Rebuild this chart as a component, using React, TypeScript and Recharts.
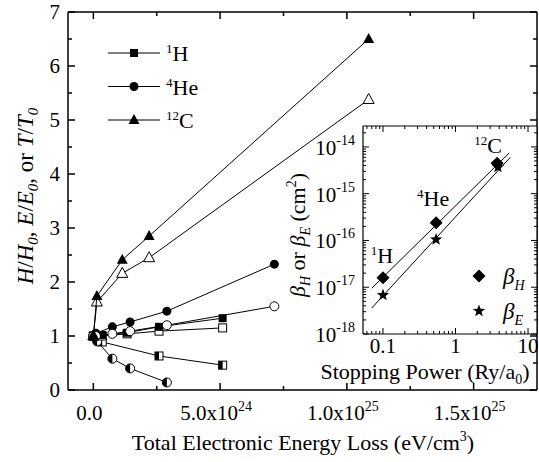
import React from 'react';
import { ScatterChart, Scatter, XAxis, YAxis, Legend, CartesianGrid } from 'recharts';

const FONT = '"Liberation Serif", "Times New Roman", Times, serif';
const K = '#000';

// ---------------- main panel data (x: eV/cm^3, y: ratio) ----------------
const h1Filled = [
  { x: 0, y: 1 }, { x: 3.5e23, y: 1.02 }, { x: 1.33e24, y: 1.06 }, { x: 2.59e24, y: 1.17 }, { x: 5.1e24, y: 1.33 },
];
const h1Open = [
  { x: 0, y: 1 }, { x: 3.5e23, y: 1.0 }, { x: 1.33e24, y: 1.04 }, { x: 2.59e24, y: 1.09 }, { x: 5.1e24, y: 1.15 },
];
const h1Half = [
  { x: 0, y: 1 }, { x: 3.5e23, y: 0.89 }, { x: 2.59e24, y: 0.63 }, { x: 5.1e24, y: 0.46 },
];
const he4Filled = [
  { x: 0, y: 1 }, { x: 1e23, y: 1.05 }, { x: 7.5e23, y: 1.17 }, { x: 1.45e24, y: 1.26 }, { x: 2.9e24, y: 1.46 }, { x: 7.14e24, y: 2.33 },
];
const he4Open = [
  { x: 0, y: 1 }, { x: 1e23, y: 1.0 }, { x: 7.5e23, y: 1.04 }, { x: 1.45e24, y: 1.09 }, { x: 2.9e24, y: 1.2 }, { x: 7.14e24, y: 1.55 },
];
const he4Half = [
  { x: 0, y: 1 }, { x: 1.5e23, y: 0.9 }, { x: 7.5e23, y: 0.58 }, { x: 1.45e24, y: 0.4 }, { x: 2.9e24, y: 0.14 },
];
const c12Filled = [
  { x: 0, y: 1 }, { x: 1.4e23, y: 1.74 }, { x: 1.14e24, y: 2.41 }, { x: 2.2e24, y: 2.85 }, { x: 1.086e25, y: 6.5 },
];
const c12Open = [
  { x: 0, y: 1 }, { x: 1.4e23, y: 1.63 }, { x: 1.14e24, y: 2.16 }, { x: 2.2e24, y: 2.45 }, { x: 1.086e25, y: 5.38 },
];

const yTicksMain = [0, 0.5, 1, 1.5, 2, 2.5, 3, 3.5, 4, 4.5, 5, 5.5, 6, 6.5, 7];
const yMajorMain = [0, 1, 2, 3, 4, 5, 6, 7];
const xTicksMain = [0, 2.5e24, 5e24, 7.5e24, 1e25, 1.25e25, 1.5e25];
const xMajorMain = [0, 5e24, 1e25, 1.5e25];
const xTickBase = ['0.0', '5.0x10', '1.0x10', '1.5x10'];
const xTickExp = ['', '24', '25', '25'];

const mainLegendItems = [
  { iso: '1', el: 'H', kind: 'sqF' },
  { iso: '4', el: 'He', kind: 'ciF' },
  { iso: '12', el: 'C', kind: 'trF' },
];

// ---------------- inset data (x: Ry/a0, y: cm^2) ----------------
const betaH = [{ x: 0.1, y: 1.6e-17 }, { x: 0.54, y: 2.4e-16 }, { x: 3.75, y: 4.5e-15 }];
const betaE = [{ x: 0.1, y: 6.8e-18 }, { x: 0.54, y: 1.05e-16 }, { x: 3.85, y: 3.7e-15 }];
const fitH = [{ x: 0.07, y: 9.5e-18 }, { x: 5.5, y: 7.4e-15 }];
const fitE = [{ x: 0.07, y: 3.6e-18 }, { x: 5.7, y: 6.0e-15 }];
const isoLabels = ['1', '4', '12'];
const elLabels = ['H', 'He', 'C'];
const annotOffsets = [{ dx: -1, dy: -15 }, { dx: -3, dy: -17 }, { dx: -9, dy: -10 }];

const insetXMajor = [0.1, 1, 10];
const insetXLabels = ['0.1', '1', '10'];
const insetXMinor = [0.06, 0.07, 0.08, 0.09, 0.2, 0.3, 0.4, 0.5, 0.6, 0.7, 0.8, 0.9, 2, 3, 4, 5, 6, 7, 8, 9];
const insetYMajor = [1e-18, 1e-17, 1e-16, 1e-15, 1e-14];
const insetYExp = ['-18', '-17', '-16', '-15', '-14'];
const insetYMinor = [
  2e-18, 3e-18, 4e-18, 5e-18, 6e-18, 7e-18, 8e-18, 9e-18,
  2e-17, 3e-17, 4e-17, 5e-17, 6e-17, 7e-17, 8e-17, 9e-17,
  2e-16, 3e-16, 4e-16, 5e-16, 6e-16, 7e-16, 8e-16, 9e-16,
  2e-15, 3e-15, 4e-15, 5e-15, 6e-15, 7e-15, 8e-15, 9e-15,
  2e-14,
];
const insetXTicks = [...insetXMinor, ...insetXMajor].sort((a, b) => a - b);
const insetYTicks = [...insetYMinor, ...insetYMajor].sort((a, b) => a - b);

const insetLegendItems = [
  { sym: 'diamond', sub: 'H' },
  { sym: 'star', sub: 'E' },
];

// ---------------- markers ----------------
function starPoints(cx: number, cy: number, ro: number, ri: number) {
  const pts: string[] = [];
  for (let i = 0; i < 10; i++) {
    const r = i % 2 === 0 ? ro : ri;
    const a = -Math.PI / 2 + (i * Math.PI) / 5;
    pts.push(`${cx + r * Math.cos(a)},${cy + r * Math.sin(a)}`);
  }
  return pts.join(' ');
}

function markerEl(kind: string, cx: number, cy: number) {
  const s = 4;
  const r = 4.5;
  switch (kind) {
    case 'sqF':
      return <rect x={cx - s} y={cy - s} width={2 * s} height={2 * s} fill={K} />;
    case 'sqO':
      return <rect x={cx - s} y={cy - s} width={2 * s} height={2 * s} fill="#fff" stroke={K} strokeWidth={1} />;
    case 'sqH':
      return (
        <g>
          <rect x={cx - s} y={cy - s} width={2 * s} height={2 * s} fill="#fff" stroke={K} strokeWidth={1} />
          <rect x={cx - s} y={cy - s} width={s} height={2 * s} fill={K} />
        </g>
      );
    case 'ciF':
      return <circle cx={cx} cy={cy} r={r} fill={K} />;
    case 'ciO':
      return <circle cx={cx} cy={cy} r={r} fill="#fff" stroke={K} strokeWidth={1} />;
    case 'ciH':
      return (
        <g>
          <circle cx={cx} cy={cy} r={r} fill="#fff" stroke={K} strokeWidth={1} />
          <path d={`M${cx},${cy - r} A${r},${r} 0 0 0 ${cx},${cy + r} Z`} fill={K} />
        </g>
      );
    case 'trF':
      return <polygon points={`${cx},${cy - 6} ${cx - 5.5},${cy + 4} ${cx + 5.5},${cy + 4}`} fill={K} />;
    case 'trO':
      return (
        <polygon points={`${cx},${cy - 6} ${cx - 5.5},${cy + 4} ${cx + 5.5},${cy + 4}`} fill="#fff" stroke={K} strokeWidth={1} />
      );
    case 'diamond':
      return <polygon points={`${cx},${cy - 6.5} ${cx + 6.5},${cy} ${cx},${cy + 6.5} ${cx - 6.5},${cy}`} fill={K} />;
    case 'star':
      return <polygon points={starPoints(cx, cy, 6.5, 2.7)} fill={K} />;
    default:
      return <g />;
  }
}

const makeShape = (kind: string) => (props: any) => {
  const { cx, cy } = props;
  if (cx == null || cy == null || isNaN(cx) || isNaN(cy)) return <g />;
  return markerEl(kind, cx, cy);
};
const noShape = () => <g />;

const annotShape = (props: any) => {
  const { cx, cy, payload } = props;
  if (cx == null || cy == null) return <g />;
  const i = payload.idx;
  const o = annotOffsets[i];
  return (
    <text x={cx + o.dx} y={cy + o.dy} textAnchor="middle" fontFamily={FONT} fontSize={22} fill={K}>
      <tspan fontSize={13} dy={-8}>{isoLabels[i]}</tspan>
      <tspan dy={8}>{elLabels[i]}</tspan>
    </text>
  );
};
const annotData = betaH.map((p, i) => ({ ...p, idx: i }));

// ---------------- ticks ----------------
const MainXTick = (props: any) => {
  const { x, y, payload } = props;
  const v = payload.value;
  const idx = xMajorMain.indexOf(v);
  const major = idx >= 0;
  return (
    <g>
      <line x1={x} x2={x} y1={y} y2={y - (major ? 7 : 4)} stroke={K} strokeWidth={1.5} />
      {major && (
        <text x={x - 4} y={y + 30} textAnchor="middle" fontFamily={FONT} fontSize={21} fill={K}>
          {xTickBase[idx]}
          {xTickExp[idx] ? <tspan dy={-9} fontSize={14}>{xTickExp[idx]}</tspan> : null}
        </text>
      )}
    </g>
  );
};
const MainXTopTick = (props: any) => {
  const { x, y, payload } = props;
  const major = xMajorMain.indexOf(payload.value) >= 0;
  return <line x1={x} x2={x} y1={y} y2={y + (major ? 7 : 4)} stroke={K} strokeWidth={1.5} />;
};
const MainYTick = (props: any) => {
  const { x, y, payload } = props;
  const v = payload.value;
  const major = yMajorMain.indexOf(v) >= 0;
  return (
    <g>
      <line x1={x} x2={x + (major ? 7 : 4)} y1={y} y2={y} stroke={K} strokeWidth={1.5} />
      {major && (
        <text x={x - 8} y={y + 7} textAnchor="end" fontFamily={FONT} fontSize={21} fill={K}>
          {String(v)}
        </text>
      )}
    </g>
  );
};
const MainYRightTick = (props: any) => {
  const { x, y, payload } = props;
  const major = yMajorMain.indexOf(payload.value) >= 0;
  return <line x1={x} x2={x - (major ? 7 : 4)} y1={y} y2={y} stroke={K} strokeWidth={1.5} />;
};

const isDecade = (v: number) => Math.abs(Math.log10(v) - Math.round(Math.log10(v))) < 1e-6;

const InsetXTick = (props: any) => {
  const { x, y, payload } = props;
  const v = payload.value;
  const major = isDecade(v);
  const idx = insetXMajor.findIndex((m) => Math.abs(m - v) / m < 1e-6);
  return (
    <g>
      <line x1={x} x2={x} y1={y} y2={y - (major ? 6 : 3)} stroke={K} strokeWidth={1} />
      {major && idx >= 0 && (
        <text x={x} y={y + 19} textAnchor="middle" fontFamily={FONT} fontSize={21} fill={K}>
          {insetXLabels[idx]}
        </text>
      )}
    </g>
  );
};
const InsetXTopTick = (props: any) => {
  const { x, y, payload } = props;
  const major = isDecade(payload.value);
  return <line x1={x} x2={x} y1={y} y2={y + (major ? 6 : 3)} stroke={K} strokeWidth={1} />;
};
const InsetYTick = (props: any) => {
  const { x, y, payload } = props;
  const v = payload.value;
  const major = isDecade(v);
  const idx = insetYMajor.findIndex((m) => Math.abs(m - v) / m < 1e-6);
  return (
    <g>
      <line x1={x} x2={x + (major ? 6 : 3)} y1={y} y2={y} stroke={K} strokeWidth={1} />
      {major && idx >= 0 && (
        <text x={x - 8} y={y + 8} textAnchor="end" fontFamily={FONT} fontSize={21} fill={K}>
          10<tspan dy={-10} fontSize={14}>{insetYExp[idx]}</tspan>
        </text>
      )}
    </g>
  );
};
const InsetYRightTick = (props: any) => {
  const { x, y, payload } = props;
  const major = isDecade(payload.value);
  return <line x1={x} x2={x - (major ? 6 : 3)} y1={y} y2={y} stroke={K} strokeWidth={1} />;
};

// ---------------- labels & legends ----------------
const mainYLabel = () => (
  <text x={33} y={196} transform="rotate(-90, 33, 196)" textAnchor="middle" fontFamily={FONT} fontSize={23} fill={K}>
    <tspan fontStyle="italic">H</tspan>
    <tspan>/</tspan>
    <tspan fontStyle="italic">H</tspan>
    <tspan fontStyle="italic" fontSize={15} dy={5}>0</tspan>
    <tspan dy={-5}>, </tspan>
    <tspan fontStyle="italic">E</tspan>
    <tspan>/</tspan>
    <tspan fontStyle="italic">E</tspan>
    <tspan fontStyle="italic" fontSize={15} dy={5}>0</tspan>
    <tspan dy={-5}>, or </tspan>
    <tspan fontStyle="italic">T</tspan>
    <tspan>/</tspan>
    <tspan fontStyle="italic">T</tspan>
    <tspan fontStyle="italic" fontSize={15} dy={5}>0</tspan>
  </text>
);
const mainXLabel = () => (
  <text x={303} y={450} textAnchor="middle" fontFamily={FONT} fontSize={22} fill={K}>
    Total Electronic Energy Loss (eV/cm
    <tspan fontSize={14} dy={-9}>3</tspan>
    <tspan dy={9}>)</tspan>
  </text>
);
const insetXLabel = () => (
  <text x={145} y={259} textAnchor="middle" fontFamily={FONT} fontSize={22} fill={K}>
    Stopping Power (Ry/a
    <tspan fontSize={14} dy={5}>0</tspan>
    <tspan dy={-5}>)</tspan>
  </text>
);
const insetYLabel = () => (
  <text x={25} y={115} transform="rotate(-90, 25, 115)" textAnchor="middle" fontFamily={FONT} fontSize={22} fill={K}>
    <tspan fontStyle="italic">β</tspan>
    <tspan fontStyle="italic" fontSize={14} dy={5}>H</tspan>
    <tspan dy={-5}> or </tspan>
    <tspan fontStyle="italic">β</tspan>
    <tspan fontStyle="italic" fontSize={14} dy={5}>E</tspan>
    <tspan dy={-5}> (cm</tspan>
    <tspan fontSize={14} dy={-9}>2</tspan>
    <tspan dy={9}>)</tspan>
  </text>
);

const renderMainLegend = () => (
  <svg width={120} height={110} style={{ overflow: 'visible', display: 'block' }}>
    {mainLegendItems.map((it, i) => {
      const cy = 18 + i * 33.5;
      return (
        <g key={it.el}>
          <line x1={8} x2={60} y1={cy} y2={cy} stroke={K} strokeWidth={1} />
          {markerEl(it.kind, 34, cy)}
          <text x={66} y={cy + 8} fontFamily={FONT} fontSize={22} fill={K}>
            <tspan fontSize={13} dy={-8}>{it.iso}</tspan>
            <tspan dy={8}>{it.el}</tspan>
          </text>
        </g>
      );
    })}
  </svg>
);

const renderInsetLegend = () => (
  <svg width={80} height={75} style={{ overflow: 'visible', display: 'block' }}>
    {insetLegendItems.map((it, i) => {
      const cy = 20 + i * 35;
      return (
        <g key={it.sub}>
          {markerEl(it.sym, 11, cy)}
          <text x={35} y={cy + 8} fontFamily={FONT} fontSize={23} fill={K}>
            <tspan fontStyle="italic">β</tspan>
            <tspan fontStyle="italic" fontSize={14} dy={6}>{it.sub}</tspan>
          </text>
        </g>
      );
    })}
  </svg>
);

const axisLine = { stroke: K, strokeWidth: 1.5 };
const insetAxisLine = { stroke: K, strokeWidth: 1.2 };
const seriesLine = { stroke: K, strokeWidth: 1 };

export default function App() {
  return (
    <div style={{ position: 'absolute', left: 0, top: 0, width: 539, height: 462, background: '#fff' }}>
      <ScatterChart width={539} height={462} margin={{ top: 11, right: 1, left: 0, bottom: 0 }}>
        <XAxis
          xAxisId={0}
          dataKey="x"
          type="number"
          domain={[-1e24, 1.75e25]}
          allowDataOverflow
          ticks={xTicksMain}
          interval={0}
          height={72}
          tickSize={0}
          tickMargin={0}
          tickLine={false}
          axisLine={axisLine}
          tick={<MainXTick />}
          label={{ content: mainXLabel }}
        />
        <XAxis
          xAxisId="top"
          orientation="top"
          dataKey="x"
          type="number"
          domain={[-1e24, 1.75e25]}
          allowDataOverflow
          ticks={xTicksMain}
          interval={0}
          height={1}
          tickSize={0}
          tickMargin={0}
          tickLine={false}
          axisLine={axisLine}
          tick={<MainXTopTick />}
        />
        <YAxis
          yAxisId={0}
          dataKey="y"
          type="number"
          domain={[0, 7]}
          allowDataOverflow
          ticks={yTicksMain}
          interval={0}
          width={68}
          tickSize={0}
          tickMargin={0}
          tickLine={false}
          axisLine={axisLine}
          tick={<MainYTick />}
          label={{ content: mainYLabel }}
        />
        <YAxis
          yAxisId="right"
          orientation="right"
          dataKey="y"
          type="number"
          domain={[0, 7]}
          allowDataOverflow
          ticks={yTicksMain}
          interval={0}
          width={1}
          tickSize={0}
          tickMargin={0}
          tickLine={false}
          axisLine={axisLine}
          tick={<MainYRightTick />}
        />
        <Scatter xAxisId="top" yAxisId="right" data={[{ x: 0, y: 0 }]} shape={noShape} legendType="none" isAnimationActive={false} />
        <Scatter data={h1Half} line={seriesLine} lineType="joint" shape={makeShape('sqH')} isAnimationActive={false} />
        <Scatter data={he4Half} line={seriesLine} lineType="joint" shape={makeShape('ciH')} isAnimationActive={false} />
        <Scatter data={h1Open} line={seriesLine} lineType="joint" shape={makeShape('sqO')} isAnimationActive={false} />
        <Scatter data={h1Filled} line={seriesLine} lineType="joint" shape={makeShape('sqF')} isAnimationActive={false} />
        <Scatter data={he4Filled} line={seriesLine} lineType="joint" shape={makeShape('ciF')} isAnimationActive={false} />
        <Scatter data={he4Open} line={seriesLine} lineType="joint" shape={makeShape('ciO')} isAnimationActive={false} />
        <Scatter data={c12Open} line={seriesLine} lineType="joint" shape={makeShape('trO')} isAnimationActive={false} />
        <Scatter data={c12Filled} line={seriesLine} lineType="joint" shape={makeShape('trF')} isAnimationActive={false} />
        <Legend
          content={renderMainLegend}
          layout="horizontal"
          verticalAlign="middle"
          align="center"
          wrapperStyle={{ left: 100, top: 35, width: 120, height: 110 }}
        />
      </ScatterChart>

      <div style={{ position: 'absolute', left: 280, top: 120, width: 259, height: 270 }}>
        <ScatterChart width={259} height={270} margin={{ top: 5, right: 1, left: 0, bottom: 0 }}>
          <CartesianGrid horizontal={false} vertical={false} fill="#fff" fillOpacity={1} stroke="none" />
          <XAxis
            xAxisId={0}
            dataKey="x"
            type="number"
            scale="log"
            domain={[0.053, 13.3]}
            allowDataOverflow
            ticks={insetXTicks}
            interval={0}
            height={56}
            tickSize={0}
            tickMargin={0}
            tickLine={false}
            axisLine={insetAxisLine}
            tick={<InsetXTick />}
            label={{ content: insetXLabel }}
          />
          <XAxis
            xAxisId="top"
            orientation="top"
            dataKey="x"
            type="number"
            scale="log"
            domain={[0.053, 13.3]}
            allowDataOverflow
            ticks={insetXTicks}
            interval={0}
            height={1}
            tickSize={0}
            tickMargin={0}
            tickLine={false}
            axisLine={insetAxisLine}
            tick={<InsetXTopTick />}
          />
          <YAxis
            yAxisId={0}
            dataKey="y"
            type="number"
            scale="log"
            domain={[1e-18, 2.8e-14]}
            allowDataOverflow
            ticks={insetYTicks}
            interval={0}
            width={83}
            tickSize={0}
            tickMargin={0}
            tickLine={false}
            axisLine={insetAxisLine}
            tick={<InsetYTick />}
            label={{ content: insetYLabel }}
          />
          <YAxis
            yAxisId="right"
            orientation="right"
            dataKey="y"
            type="number"
            scale="log"
            domain={[1e-18, 2.8e-14]}
            allowDataOverflow
            ticks={insetYTicks}
            interval={0}
            width={1}
            tickSize={0}
            tickMargin={0}
            tickLine={false}
            axisLine={insetAxisLine}
            tick={<InsetYRightTick />}
          />
          <Scatter xAxisId="top" yAxisId="right" data={[{ x: 1, y: 1e-16 }]} shape={noShape} legendType="none" isAnimationActive={false} />
          <Scatter data={fitH} line={seriesLine} lineType="joint" shape={noShape} isAnimationActive={false} />
          <Scatter data={fitE} line={seriesLine} lineType="joint" shape={noShape} isAnimationActive={false} />
          <Scatter data={betaH} shape={makeShape('diamond')} isAnimationActive={false} />
          <Scatter data={betaE} shape={makeShape('star')} isAnimationActive={false} />
          <Scatter data={annotData} shape={annotShape} isAnimationActive={false} />
          <Legend
            content={renderInsetLegend}
            layout="horizontal"
            verticalAlign="middle"
            align="center"
            wrapperStyle={{ left: 188, top: 136, width: 80, height: 75 }}
          />
        </ScatterChart>
      </div>
    </div>
  );
}
